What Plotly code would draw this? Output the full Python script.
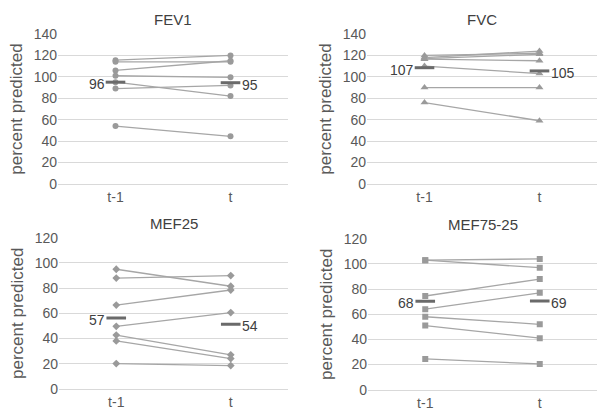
import plotly.graph_objects as go

W, H = 602, 416

times = ["t-1", "t"]

# FEV1 (percent predicted) per subject
fev1_t1 = [115.5, 114, 106, 101, 95, 89, 54]
fev1_t = [120, 114, 115, 99.5, 82, 92, 44.5]
fev1_mean = [95, 94.5]
fev1_mean_labels = ["96", "95"]

# FVC
fvc_t1 = [120, 118, 117, 116.5, 110, 90, 76]
fvc_t = [122, 124, 121, 115, 103, 90, 59]
fvc_mean = [108.5, 105.5]
fvc_mean_labels = ["107", "105"]

# MEF25
mef25_t1 = [95, 88, 66.5, 49.6, 42.7, 38, 20]
mef25_t = [81.5, 90, 78.5, 60.6, 27, 24, 18.4]
mef25_mean = [56.3, 51.2]
mef25_mean_labels = ["57", "54"]

# MEF75-25
mef7525_t1 = [103, 103, 74.5, 64, 58, 51, 24.5]
mef7525_t = [104, 97, 88, 77, 52, 41, 20.5]
mef7525_mean = [70.3, 70.5]
mef7525_mean_labels = ["68", "69"]

panels = [
    dict(title="FEV1", t1=fev1_t1, t=fev1_t, mean=fev1_mean, labels=fev1_mean_labels,
         symbol="circle", msize=6, ymax=140, px=(58, 288), py=(27, 183)),
    dict(title="FVC", t1=fvc_t1, t=fvc_t, mean=fvc_mean, labels=fvc_mean_labels,
         symbol="triangle-up", msize=7, ymax=140, px=(367, 597), py=(27, 183)),
    dict(title="MEF25", t1=mef25_t1, t=mef25_t, mean=mef25_mean, labels=mef25_mean_labels,
         symbol="diamond", msize=6, ymax=120, px=(59, 288), py=(239, 396)),
    dict(title="MEF75-25", t1=mef7525_t1, t=mef7525_t, mean=mef7525_mean, labels=mef7525_mean_labels,
         symbol="square", msize=6, ymax=120, px=(368, 597), py=(240, 397)),
]

FONT = "Liberation Sans"
LINE_C = "#a6a6a6"
MARK_C = "#9a9a9a"
MEAN_C = "#6a6a6a"
TXT_C = "#595959"
GRID_C = "#d9d9d9"

fig = go.Figure()
annotations = []

for i, p in enumerate(panels):
    n = i + 1
    xa = "x" if n == 1 else f"x{n}"
    ya = "y" if n == 1 else f"y{n}"
    for a, b in zip(p["t1"], p["t"]):
        fig.add_trace(go.Scatter(
            x=times, y=[a, b], mode="lines+markers", xaxis=xa, yaxis=ya,
            line=dict(color=LINE_C, width=1.3),
            marker=dict(symbol=p["symbol"], size=p["msize"], color=MARK_C),
            showlegend=False, hoverinfo="skip"))
    fig.add_trace(go.Scatter(
        x=times, y=p["mean"], mode="markers", xaxis=xa, yaxis=ya,
        marker=dict(symbol="line-ew", size=14, line=dict(color=MEAN_C, width=3)),
        showlegend=False, hoverinfo="skip"))
    for j, (tx, lab) in enumerate(zip(times, p["labels"])):
        annotations.append(dict(
            x=tx, y=p["mean"][j], xref=xa, yref=ya, text=lab, showarrow=False,
            xanchor="right" if j == 0 else "left", yanchor="middle",
            xshift=-9 if j == 0 else 9, yshift=-2,
            font=dict(family=FONT, size=14, color="#404040")))
    x0, x1 = p["px"]
    y0, y1 = p["py"]
    dom_x = [x0 / W, x1 / W]
    dom_y = [1 - y1 / H, 1 - y0 / H]
    xkey = "xaxis" if n == 1 else f"xaxis{n}"
    ykey = "yaxis" if n == 1 else f"yaxis{n}"
    fig.update_layout(**{
        xkey: dict(domain=dom_x, anchor=ya, type="category", range=[-0.5, 1.5],
                   showgrid=False, showline=True, linecolor=GRID_C, linewidth=1,
                   ticks="", tickfont=dict(family=FONT, size=14, color=TXT_C),
                   fixedrange=True),
        ykey: dict(domain=dom_y, anchor=xa, range=[0, p["ymax"]], dtick=20,
                   showgrid=True, gridcolor=GRID_C, gridwidth=1, zeroline=False,
                   showline=False, ticks="",
                   tickfont=dict(family=FONT, size=14, color=TXT_C),
                   title=dict(text="percent predicted", standoff=6,
                              font=dict(family=FONT, size=17, color=TXT_C)),
                   fixedrange=True),
    })
    annotations.append(dict(
        x=(dom_x[0] + dom_x[1]) / 2, y=1 - (y0 - 15) / H, xref="paper", yref="paper",
        text=p["title"], showarrow=False, xanchor="center", yanchor="middle",
        font=dict(family=FONT, size=15, color="#404040")))

fig.update_layout(
    width=W, height=H, margin=dict(l=0, r=0, t=0, b=0),
    paper_bgcolor="white", plot_bgcolor="white",
    annotations=annotations, showlegend=False,
)

fig.write_html(
    "out.html",
    config={"displayModeBar": False, "staticPlot": True},
    post_script="document.body.style.margin='0';document.body.style.padding='0';document.body.style.overflow='hidden';",
)
